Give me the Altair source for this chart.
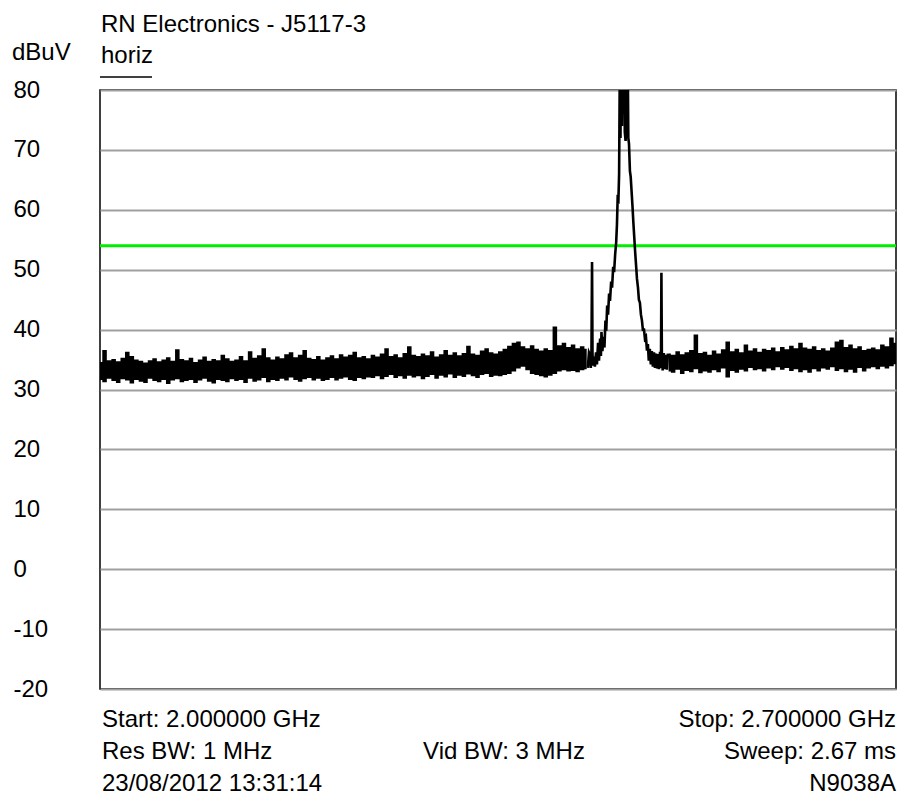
import altair as alt
import pandas as pd

# ---- sweep settings / labels ----
start_ghz = 2.0
stop_ghz = 2.7
step_ghz = 0.004
right_start_ghz = 2.500
limit_db = [54]
y_ticks = [-20, -10, 0, 10, 20, 30, 40, 50, 60, 70, 80]

# ---- noise envelope left of the carrier (2.000 .. 2.428 GHz, 4 MHz steps) ----
left_hi = [
    34.6, 36.6, 34.9, 35.1, 34.7, 35.3, 36.3, 35.6, 35.0, 34.8,
    34.5, 34.9, 35.2, 34.7, 35.0, 35.4, 34.8, 36.7, 35.1, 34.9,
    35.3, 34.6, 35.0, 35.5, 34.8, 35.1, 34.9, 35.8, 35.2, 34.8,
    35.0, 35.6, 34.9, 36.4, 35.3, 35.7, 36.9, 35.4, 35.0, 35.5,
    35.2, 35.9, 36.2, 35.4, 35.8, 36.6, 35.3, 35.1, 35.6, 35.0,
    35.4, 35.7, 35.2, 35.9, 35.5, 35.8, 36.3, 35.4, 35.6, 35.2,
    35.8, 35.5, 36.0, 36.9, 35.6, 35.9, 35.4, 36.1, 37.2, 35.8,
    35.6, 36.0, 35.7, 36.4, 35.5, 35.9, 36.6, 35.8, 36.2, 35.7,
    36.1, 37.3, 36.0, 35.8, 36.5, 36.9, 36.2, 36.0, 36.4,
    36.8, 37.3, 37.8, 38.0, 37.2, 36.9, 37.4, 36.8, 36.5, 36.9,
    36.6, 40.5, 37.4, 37.8, 37.1, 37.5, 36.9, 37.2, 36.8,
]
left_lo = [
    31.6, 31.2, 31.8, 31.4, 31.1, 31.7, 31.5, 31.0, 31.6, 31.3,
    31.1, 31.8, 31.4, 31.2, 31.6, 30.9, 31.5, 31.7, 31.2, 31.4,
    31.6, 31.1, 31.5, 31.8, 31.3, 31.0, 31.6, 31.4, 31.2, 31.7,
    31.4, 31.6, 31.1, 31.8, 31.3, 31.5, 31.9, 31.2, 31.6, 31.4,
    31.8, 31.5, 32.0, 31.6, 31.3, 31.7, 31.9, 31.5, 31.8, 31.4,
    31.6, 31.9, 31.5, 31.8, 32.0, 31.6, 31.4, 31.9, 31.7, 32.0,
    31.9, 32.2, 31.7, 32.1, 32.4, 31.9, 32.2, 31.8, 32.3, 32.0,
    32.2, 31.7, 32.1, 32.4, 31.8, 32.3, 32.0, 32.5, 31.9, 32.3,
    32.1, 32.5, 32.2, 31.9, 32.4, 32.6, 32.1, 32.3, 32.2,
    32.4, 32.6, 33.0, 33.5, 33.8, 33.2, 32.6, 32.4, 32.2, 32.0,
    32.3, 32.6, 33.0, 33.2, 33.0, 33.1, 32.9, 33.2, 33.4,
]

# ---- carrier region, trace points ----
peak_f = [
    2.4290, 2.4300, 2.4310, 2.4316, 2.4322, 2.4327, 2.4331, 2.4336, 2.4345, 2.4352,
    2.4362, 2.4370, 2.4380, 2.4388, 2.4398, 2.4405, 2.4410, 2.4418, 2.4428, 2.4436,
    2.4445, 2.4452, 2.4460, 2.4468, 2.4477, 2.4485, 2.4495, 2.4503, 2.4513, 2.4521,
    2.4530, 2.4539, 2.4546, 2.4553, 2.4558, 2.4565, 2.4572, 2.4577, 2.4583, 2.4590,
    2.4596, 2.4603, 2.4609, 2.4615, 2.4622, 2.4628, 2.4633, 2.4640, 2.4646, 2.4652,
    2.4660, 2.4667, 2.4675, 2.4683, 2.4690, 2.4698, 2.4706, 2.4715, 2.4722, 2.4731,
    2.4739, 2.4748, 2.4757, 2.4766, 2.4775, 2.4783, 2.4792, 2.4801, 2.4810, 2.4818,
    2.4826, 2.4835, 2.4844, 2.4853, 2.4862, 2.4872, 2.4880, 2.4890, 2.4898, 2.4907,
    2.4916, 2.4925, 2.4933, 2.4937, 2.4941, 2.4948, 2.4958, 2.4966, 2.4976, 2.4985,
    2.4994,
]
peak_v = [
    33.6, 36.2, 35.8, 33.6, 36.5, 51.3, 36.0, 34.0, 35.5, 33.8,
    36.2, 34.2, 37.8, 34.8, 38.5, 35.6, 39.6, 36.4, 38.8, 37.0,
    41.5, 39.8, 44.0, 42.5, 46.0, 44.8, 48.0, 47.0, 50.5, 49.6,
    52.5, 54.5, 57.5, 62.5, 61.0, 66.0, 86.0, 72.0, 88.0, 74.0,
    90.0, 76.0, 89.0, 73.0, 71.5, 74.0, 88.0, 87.0, 72.0, 71.0,
    66.5, 65.5, 63.0, 60.5, 58.0, 55.5, 53.0, 50.5, 48.5, 47.0,
    45.0, 44.5, 42.5, 41.5, 39.8, 40.2, 38.5, 38.8, 36.5, 37.6,
    34.8, 36.8, 34.2, 36.4, 33.8, 36.2, 33.6, 36.0, 33.5, 35.9,
    33.4, 36.3, 33.6, 49.5, 36.0, 33.2, 36.1, 33.4, 35.8, 33.3,
    36.0,
]

# ---- noise envelope right of the carrier (2.500 .. 2.700 GHz, 4 MHz steps) ----
right_hi = [
    36.0, 35.8, 36.4, 35.9, 36.2, 36.6, 39.2, 36.1, 36.3, 35.8,
    36.5, 36.0, 36.7, 38.0, 36.4, 36.8, 36.2, 37.5, 36.5, 36.9,
    36.3, 36.8, 36.6, 37.0, 36.4, 37.1, 36.7, 37.3, 36.9, 37.8,
    37.0, 36.8, 37.2, 36.6, 36.9, 36.5, 37.0, 38.0, 38.3, 37.1,
    37.5, 36.9, 37.2, 36.6, 36.8, 37.0, 36.7, 37.5, 37.2, 38.7, 37.8,
]
right_lo = [
    33.0, 32.8, 33.3, 32.6, 33.1, 32.9, 33.4, 32.7, 33.0, 32.8,
    33.2, 32.9, 33.5, 32.0, 33.1, 32.8, 33.3, 33.0, 33.6, 33.2,
    33.4, 33.0, 33.5, 33.2, 33.7, 33.3, 33.6, 33.1, 33.4, 32.9,
    33.2, 32.8, 33.4, 33.0, 33.5, 33.3, 33.7, 33.1, 33.4, 32.9,
    33.3, 32.8, 33.6, 33.0, 33.5, 33.7, 33.4, 33.8, 33.5, 33.9, 34.2,
]

# ---- tables built from the lists above ----
def band(f0, hi, lo, seg):
    return pd.DataFrame({
        "f": [f0 + i * step_ghz for i in range(len(hi))],
        "hi": hi, "lo": lo, "seg": seg,
    })

noise = pd.concat([band(start_ghz, left_hi, left_lo, "L"),
                   band(right_start_ghz, right_hi, right_lo, "R")], ignore_index=True)
peak = pd.DataFrame({"f": peak_f, "v": peak_v})
peak["order"] = range(len(peak))

FONT = "Liberation Sans"
FS = 24
PW, PH = 796, 599

xscale = alt.Scale(domain=[start_ghz, stop_ghz], nice=False, zero=False)
yscale = alt.Scale(domain=[-20, 80], nice=False, zero=False)

y_axis = alt.Axis(
    values=y_ticks, grid=True, gridColor="#a0a0a0", gridWidth=2,
    ticks=False, domain=False, labelPadding=87, labelAlign="left",
    labelBaseline="middle", labelFont=FONT, labelFontSize=FS,
    labelColor="black", title=None, labelExpr="'' + datum.value",
)

grid = alt.Chart(pd.DataFrame({"v": [80]})).mark_point(opacity=0).encode(
    y=alt.Y("v:Q", scale=yscale, axis=y_axis)
)

noise_area = alt.Chart(noise).mark_area(
    color="black", interpolate="step", clip=True
).encode(
    x=alt.X("f:Q", scale=xscale, axis=None),
    y=alt.Y("hi:Q", scale=yscale),
    y2="lo:Q",
    detail="seg:N",
)

peak_line = alt.Chart(peak).mark_line(
    color="black", strokeWidth=2.6, clip=True
).encode(
    x=alt.X("f:Q", scale=xscale, axis=None),
    y=alt.Y("v:Q", scale=yscale),
    order="order:Q",
)

limit = alt.Chart(pd.DataFrame({"v": limit_db})).mark_rule(
    color="#00ee00", strokeWidth=3
).encode(y=alt.Y("v:Q", scale=yscale))

# (text, x, baseline-y, align) relative to the plot's top-left corner
texts = [
    ("dBuV", -88, -30, "left"),
    ("RN Electronics - J5117-3", 1, -58, "left"),
    ("horiz", 1, -27, "left"),
    ("Start: 2.000000 GHz", 2, 637, "left"),
    ("Stop: 2.700000 GHz", PW, 637, "right"),
    ("Res BW: 1 MHz", 2, 669, "left"),
    ("Vid BW: 3 MHz", 404, 669, "center"),
    ("Sweep: 2.67 ms", PW, 669, "right"),
    ("23/08/2012 13:31:14", 2, 701, "left"),
    ("N9038A", PW, 701, "right"),
]
one = pd.DataFrame({"a": [0]})
text_layers = [
    alt.Chart(one).mark_text(
        font=FONT, fontSize=FS, align=al, baseline="alphabetic", color="black"
    ).encode(x=alt.value(x), y=alt.value(y), text=alt.value(t))
    for t, x, y, al in texts
]

underline = alt.Chart(one).mark_rule(color="black", strokeWidth=1.5).encode(
    x=alt.value(0), x2=alt.value(52), y=alt.value(-13)
)

chart = alt.layer(grid, limit, noise_area, peak_line, underline, *text_layers).properties(
    width=PW, height=PH,
    padding={"left": 92, "top": 82, "right": 1, "bottom": 106},
    autosize=alt.AutoSizeParams(type="none"),
    background="white",
).configure_view(stroke="black", strokeWidth=1.5)

chart.save("out.html", embed_options={"renderer": "svg", "actions": False})
